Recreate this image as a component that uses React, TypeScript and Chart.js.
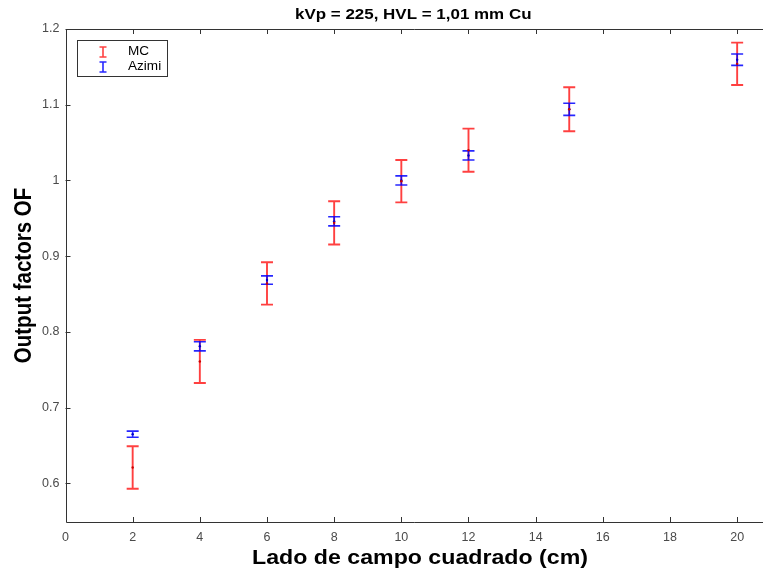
import { useEffect, useRef } from 'react';
import { Chart, registerables } from 'chart.js';

Chart.register(...registerables);

const chartTitle = 'kVp = 225, HVL = 1,01 mm Cu';
const xAxisTitle = 'Lado de campo cuadrado (cm)';
const yAxisTitle = 'Output factors OF';

// Square field side (cm)
const fieldSizes = [2, 4, 6, 8, 10, 12, 15, 20];

// Monte Carlo output factors and their uncertainties
const mcValues = [0.621, 0.761, 0.864, 0.944, 0.999, 1.04, 1.094, 1.154];
const mcErrors = [0.028, 0.0285, 0.028, 0.0285, 0.028, 0.0285, 0.029, 0.028];

// Azimi output factors and their uncertainties
const azimiValues = [0.665, 0.781, 0.8685, 0.946, 1.0, 1.033, 1.094, 1.1595];
const azimiErrors = [0.004, 0.006, 0.0055, 0.006, 0.006, 0.006, 0.008, 0.0075];

const seriesNames = ['MC', 'Azimi'];
const seriesColors = ['rgba(255,0,0,0.75)', 'rgba(0,0,255,0.85)'];

const xTickValues = [0, 2, 4, 6, 8, 10, 12, 14, 16, 18, 20];
const yTickValues = [0.6, 0.7, 0.8, 0.9, 1.0, 1.1, 1.2];
const yTickLabels = ['0.6', '0.7', '0.8', '0.9', '1', '1.1', '1.2'];

const X_MIN = 0;
const X_MAX = 20.71;
const Y_MIN = 0.549;
const Y_MAX = 1.2;

const FONT = '"Liberation Sans", Arial, Helvetica, sans-serif';
const AXIS_COLOR = '#333333';
const TEXT_STRETCH = 1.13;

// draw text widened horizontally around its anchor point
function stretchedText(ctx: CanvasRenderingContext2D, text: string, x: number, y: number, rotate = 0) {
  ctx.save();
  ctx.translate(x, y);
  ctx.scale(TEXT_STRETCH, 1);
  if (rotate) ctx.rotate(rotate);
  ctx.fillText(text, 0, 0);
  ctx.restore();
}

const errorBarPlugin = {
  id: 'errorBars',
  beforeDatasetsDraw(chart: any) {
    const { ctx, scales } = chart;
    const xs = scales.x;
    const ys = scales.y;
    ctx.save();
    chart.data.datasets.forEach((ds: any) => {
      const errs: number[] = ds.errors;
      const half = ds.capHalf;
      ctx.strokeStyle = ds.borderColor;
      ctx.lineWidth = ds.barWidth;
      ds.data.forEach((p: any, i: number) => {
        const px = xs.getPixelForValue(p.x);
        const top = ys.getPixelForValue(p.y + errs[i]);
        const bot = ys.getPixelForValue(p.y - errs[i]);
        ctx.beginPath();
        ctx.moveTo(px, top);
        ctx.lineTo(px, bot);
        ctx.moveTo(px - half, top);
        ctx.lineTo(px + half, top);
        ctx.moveTo(px - half, bot);
        ctx.lineTo(px + half, bot);
        ctx.stroke();
      });
    });
    ctx.restore();
  },
};

const framePlugin = {
  id: 'frame',
  afterDraw(chart: any) {
    const { ctx, chartArea, scales } = chart;
    const { left, top, right, bottom } = chartArea;
    const xs = scales.x;
    const ys = scales.y;
    ctx.save();

    // axes box (right side runs past the canvas edge)
    ctx.strokeStyle = AXIS_COLOR;
    ctx.lineWidth = 1;
    ctx.beginPath();
    ctx.moveTo(right + 2, Math.round(top) + 0.5);
    ctx.lineTo(Math.round(left) + 0.5, Math.round(top) + 0.5);
    ctx.lineTo(Math.round(left) + 0.5, Math.round(bottom) + 0.5);
    ctx.lineTo(right + 2, Math.round(bottom) + 0.5);
    ctx.stroke();

    // inward tick marks
    const tl = 5;
    ctx.beginPath();
    xTickValues.forEach((v) => {
      const px = Math.round(xs.getPixelForValue(v)) + 0.5;
      ctx.moveTo(px, bottom);
      ctx.lineTo(px, bottom - tl);
      ctx.moveTo(px, top);
      ctx.lineTo(px, top + tl);
    });
    yTickValues.forEach((v) => {
      const py = Math.round(ys.getPixelForValue(v)) + 0.5;
      ctx.moveTo(left, py);
      ctx.lineTo(left + tl, py);
    });
    ctx.stroke();

    // titles
    ctx.fillStyle = '#000000';
    ctx.textAlign = 'center';
    ctx.textBaseline = 'middle';
    ctx.font = `bold 15px ${FONT}`;
    stretchedText(ctx, chartTitle, (left + right) / 2, 15);
    ctx.font = `bold 20.5px ${FONT}`;
    stretchedText(ctx, xAxisTitle, 420, 558);
    stretchedText(ctx, yAxisTitle, 25, (top + bottom) / 2, -Math.PI / 2);

    // legend
    const bx = 77.5;
    const by = 40.5;
    const bw = 90;
    const bh = 36;
    ctx.fillStyle = '#ffffff';
    ctx.fillRect(bx, by, bw, bh);
    ctx.strokeStyle = AXIS_COLOR;
    ctx.strokeRect(bx, by, bw, bh);
    const rowsY = [52, 67];
    seriesNames.forEach((name, i) => {
      const cy = rowsY[i];
      const gx = 103;
      ctx.strokeStyle = seriesColors[i];
      ctx.lineWidth = 1.6;
      ctx.beginPath();
      ctx.moveTo(gx, cy - 5);
      ctx.lineTo(gx, cy + 5);
      ctx.moveTo(gx - 3.5, cy - 5);
      ctx.lineTo(gx + 3.5, cy - 5);
      ctx.moveTo(gx - 3.5, cy + 5);
      ctx.lineTo(gx + 3.5, cy + 5);
      ctx.stroke();
      ctx.fillStyle = '#000000';
      ctx.font = `12px ${FONT}`;
      ctx.textAlign = 'left';
      ctx.textBaseline = 'middle';
      stretchedText(ctx, name, 128, cy);
    });

    ctx.restore();
  },
};

export default function App() {
  const canvasRef = useRef<HTMLCanvasElement | null>(null);

  useEffect(() => {
    const canvas = canvasRef.current;
    if (!canvas) return;
    const chart = new Chart(canvas, {
      type: 'scatter',
      data: {
        datasets: [
          {
            label: seriesNames[0],
            data: fieldSizes.map((x, i) => ({ x, y: mcValues[i] })),
            errors: mcErrors,
            capHalf: 6,
            barWidth: 1.9,
            borderColor: seriesColors[0],
            backgroundColor: '#cc0000',
            pointRadius: 1.2,
            pointBorderWidth: 0,
            showLine: false,
          } as any,
          {
            label: seriesNames[1],
            data: fieldSizes.map((x, i) => ({ x, y: azimiValues[i] })),
            errors: azimiErrors,
            capHalf: 6,
            barWidth: 1.6,
            borderColor: seriesColors[1],
            backgroundColor: '#0000cc',
            pointRadius: 1.2,
            pointBorderWidth: 0,
            showLine: false,
          } as any,
        ],
      },
      options: {
        animation: false,
        responsive: false,
        layout: { padding: { top: 29, right: 0, left: 0, bottom: 0 } },
        plugins: {
          legend: { display: false },
          tooltip: { enabled: false },
          title: { display: false },
        },
        scales: {
          x: {
            type: 'linear',
            min: X_MIN,
            max: X_MAX,
            grid: { display: false, drawTicks: false },
            border: { display: false },
            afterBuildTicks: (scale: any) => {
              scale.ticks = xTickValues.map((v) => ({ value: v }));
            },
            afterFit: (scale: any) => {
              scale.height = 52;
            },
            ticks: {
              padding: 8,
              color: '#4a4a4a',
              font: { family: FONT, size: 12.5 },
              maxRotation: 0,
              autoSkip: false,
              callback: (v: any) => String(v),
            },
            title: { display: false },
          },
          y: {
            type: 'linear',
            min: Y_MIN,
            max: Y_MAX,
            grid: { display: false, drawTicks: false },
            border: { display: false },
            afterBuildTicks: (scale: any) => {
              scale.ticks = yTickValues.map((v) => ({ value: v }));
            },
            afterFit: (scale: any) => {
              scale.width = 65.5;
            },
            ticks: {
              padding: 6,
              color: '#4a4a4a',
              font: { family: FONT, size: 12.5 },
              autoSkip: false,
              callback: (v: any) => {
                const idx = yTickValues.findIndex((t) => Math.abs(t - v) < 1e-6);
                return idx >= 0 ? yTickLabels[idx] : '';
              },
            },
            title: { display: false },
          },
        },
      } as any,
      plugins: [errorBarPlugin, framePlugin],
    });
    return () => chart.destroy();
  }, []);

  return (
    <div style={{ position: 'fixed', left: 0, top: 0, width: 765, height: 574, background: '#ffffff' }}>
      <canvas ref={canvasRef} width={765} height={574} style={{ display: 'block' }} />
    </div>
  );
}
